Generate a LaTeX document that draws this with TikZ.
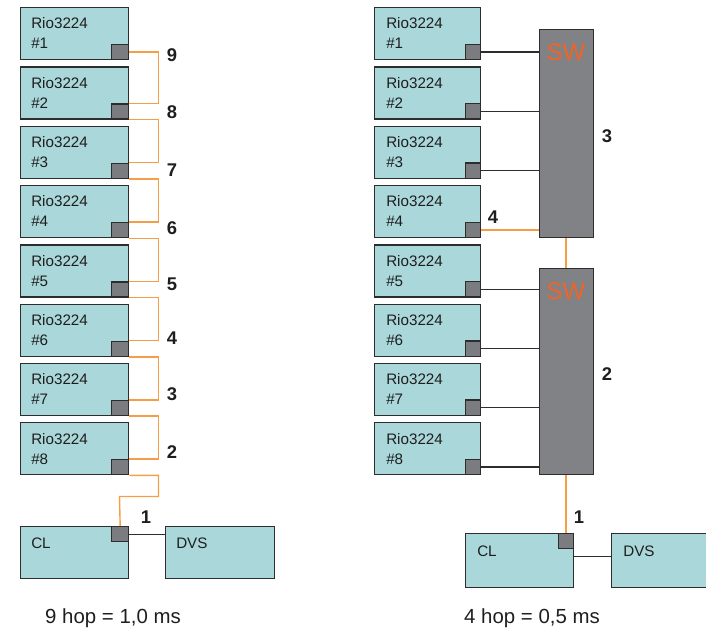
\documentclass[tikz,border=0pt]{standalone}
\usepackage{fontspec}
\setmainfont{Liberation Sans}
\definecolor{boxc}{RGB}{170,215,218}
\definecolor{bordc}{RGB}{45,45,45}
\definecolor{sqc}{RGB}{123,124,127}
\definecolor{swc}{RGB}{128,130,133}
\definecolor{orl}{RGB}{246,158,70}
\definecolor{swt}{RGB}{240,100,40}
\definecolor{txc}{RGB}{30,30,30}
\begin{document}
\begin{tikzpicture}[x=0.75pt,y=-0.75pt,
  unitbox/.style={draw=bordc,fill=boxc,line width=1pt,anchor=north west,inner sep=0pt,minimum height=39pt},
  sq/.style={draw=bordc,fill=sqc,line width=1pt,anchor=south east,inner sep=0pt},
  swbox/.style={draw=bordc,fill=swc,line width=1pt,anchor=north west,inner sep=0pt,minimum width=40.5pt},
  boxtext/.style={anchor=base west,inner sep=0pt,text=txc,font=\fontsize{11.4}{13}\selectfont},
  hoplabel/.style={inner sep=0pt,text=txc,font=\fontsize{13.8}{16}\selectfont\bfseries},
  swlabel/.style={inner sep=0pt,text=swt,font=\fontsize{18}{20}\selectfont},
  caption/.style={anchor=base,inner sep=0pt,text=txc,font=\fontsize{15.3}{18}\selectfont},
  orangeline/.style={draw=orl,line width=1.05pt},
  blackline/.style={draw=bordc,line width=0.95pt}]
\clip (0,0) rectangle (706,631);
% ---------------- left side ----------------
\foreach \i in {1,...,8}{
  \pgfmathsetmacro{\t}{7+59.3*(\i-1)}
  \node[unitbox,minimum width=81pt] (L\i) at (20,\t) {};
  \node[sq,minimum width=12.75pt,minimum height=11.25pt] (L\i s) at (L\i.south east) {};
  \node[boxtext] (L\i a) at (31,\t+22) {Rio3224};
  \node[boxtext] (L\i b) at (31,\t+42) {\#\i};
}
\node[unitbox,minimum width=81pt] (LCL) at (20,526) {};
\node[sq,anchor=north east,minimum width=12.75pt,minimum height=11.25pt] (LCLs) at (LCL.north east) {};
\node[boxtext] (LCLt) at (31,548) {CL};
\node[unitbox,minimum width=81.75pt] (LDVS) at (165,526) {};
\node[boxtext] (LDVSt) at (176,548) {DVS};
\coordinate (Lx) at (158.5,0);
\coordinate (Lk) at (119.5,496.5);
\draw[orangeline] (L1s.east) -| (Lx |- L2s.north east) -- (L2s.north east);
\foreach \i/\j in {2/3,3/4,4/5,5/6,6/7,7/8}{
  \draw[orangeline] (L\i s.south east) -| (Lx |- L\j s.north east) -- (L\j s.north east);
}
\draw[orangeline] (L8s.south east) -| (Lx |- Lk) -- (Lk) -- (LCLs.north);
\draw[blackline] (LCLs.east) -- (LDVS.west |- LCLs.east);
\foreach \k/\y in {9/55,8/112,7/170,6/228,5/284,4/338,3/394,2/452}{
  \node[hoplabel] (Lh\k) at (172,\y) {\k};
}
\node[hoplabel] (Lh1) at (146,517) {1};
\node[caption] (Lcap) at (113,623) {9 hop = 1,0 ms};
% ---------------- right side ----------------
\node[swbox,minimum height=156pt] (SW1) at (538.5,29) {};
\node[swbox,minimum height=154.5pt] (SW2) at (538.5,268) {};
\node[swlabel] (SW1t) at (566,52) {SW};
\node[swlabel] (SW2t) at (566,291) {SW};
\foreach \i in {1,...,8}{
  \pgfmathsetmacro{\t}{7+59.3*(\i-1)}
  \node[unitbox,minimum width=79.5pt] (R\i) at (374,\t) {};
  \node[sq,minimum width=11.5pt,minimum height=11.5pt] (R\i s) at (R\i.south east) {};
  \node[boxtext] (R\i a) at (386,\t+22) {Rio3224};
  \node[boxtext] (R\i b) at (386,\t+42) {\#\i};
}
\foreach \i in {1,2,3}{
  \draw[blackline] (R\i s.east) -- (R\i s.east -| SW1.west);
}
\draw[orangeline] (R4s.east) -- (R4s.east -| SW1.west);
\foreach \i in {5,6,7,8}{
  \draw[blackline] (R\i s.east) -- (R\i s.east -| SW2.west);
}
\draw[orangeline] (SW1.south) -- (SW2.north);
\node[unitbox,minimum width=81pt,minimum height=40.5pt] (RCL) at (465,533) {};
\node[sq,anchor=north east,minimum width=11.5pt,minimum height=11.25pt] (RCLs) at (RCL.north east) {};
\node[boxtext] (RCLt) at (477,556) {CL};
\node[unitbox,minimum width=81pt,minimum height=40.5pt] (RDVS) at (611,533) {};
\node[boxtext] (RDVSt) at (623,556) {DVS};
\draw[orangeline] (SW2.south) -- (SW2.south |- RCLs.north);
\coordinate (Ry) at (0,556.5);
\draw[blackline] (RCL.east |- Ry) -- (RDVS.west |- Ry);
\node[hoplabel] (Rh3) at (607,136) {3};
\node[hoplabel] (Rh4) at (493,217) {4};
\node[hoplabel] (Rh2) at (607,374) {2};
\node[hoplabel] (Rh1) at (579,517) {1};
\node[caption] (Rcap) at (532,623) {4 hop = 0,5 ms};
\end{tikzpicture}
\end{document}
